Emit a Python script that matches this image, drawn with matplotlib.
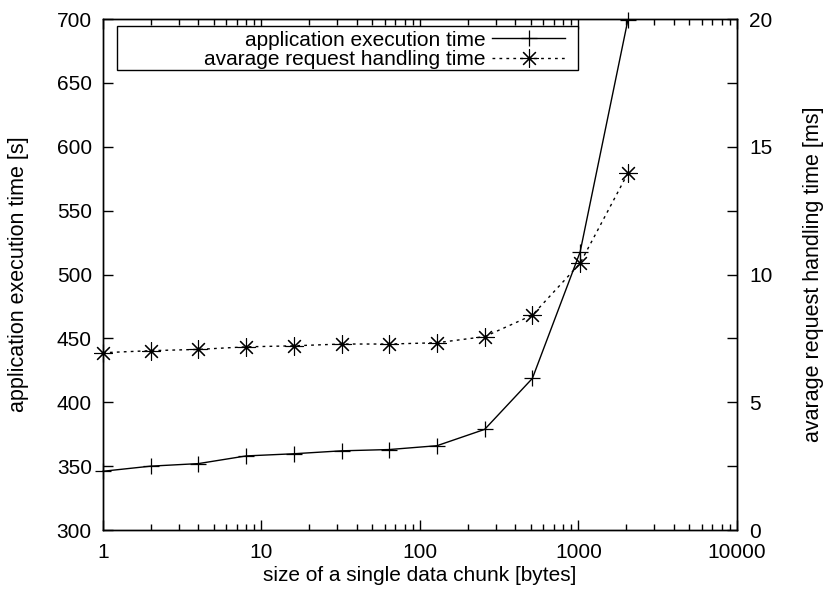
import matplotlib
matplotlib.use("Agg")
import matplotlib.pyplot as plt
from matplotlib.patches import Rectangle
from matplotlib.ticker import FixedLocator, NullFormatter, LogLocator

plt.rcParams['font.family'] = ['Liberation Sans', 'DejaVu Sans']

# chunk sizes [bytes]
chunk_size = [1, 2, 4, 8, 16, 32, 64, 128, 256, 512, 1024, 2048]
# application execution time [s]
exec_time = [346, 350, 352, 358, 359.7, 362, 363, 366, 378.8, 418.7, 517.6, 699]
# average request handling time [ms]
req_time = [6.94, 7.02, 7.07, 7.17, 7.21, 7.28, 7.28, 7.33, 7.57, 8.41, 10.44, 13.96]

x_ticks = [1, 10, 100, 1000, 10000]
y1_ticks = [300, 350, 400, 450, 500, 550, 600, 650, 700]
y2_ticks = [0, 5, 10, 15, 20]
y2_minor = [2.5, 7.5, 12.5, 17.5]

FS = 15

fig = plt.figure(figsize=(8.25, 5.95), dpi=100)
ax = fig.add_axes([0.1248, 0.1092, 0.7685, 0.8588])
ax2 = ax.twinx()

l1, = ax.plot(chunk_size, exec_time, color='black', lw=1.0, marker='+',
              markersize=12, markeredgewidth=0.9, clip_on=False, zorder=3)
l2, = ax2.plot(chunk_size, req_time, color='black', lw=1.0, ls=(0, (2, 3)),
               marker=(8, 2, 0), markersize=13, markeredgewidth=0.8,
               clip_on=False, zorder=3)

ax.set_xscale('log')
ax.set_xlim(1, 10000)
ax.set_ylim(300, 700)
ax2.set_ylim(0, 20)

ax.set_xticks(x_ticks)
ax.set_xticklabels([str(t) for t in x_ticks])
ax.xaxis.set_minor_locator(LogLocator(base=10, subs=range(2, 10)))
ax.xaxis.set_minor_formatter(NullFormatter())
ax.set_yticks(y1_ticks)
ax2.set_yticks(y2_ticks)
ax2.yaxis.set_minor_locator(FixedLocator(y2_minor))

ax.tick_params(axis='x', which='both', direction='in', top=True, labelsize=FS, pad=9)
ax.tick_params(axis='x', which='major', length=7, width=1)
ax.tick_params(axis='x', which='minor', length=4, width=1)
ax.tick_params(axis='y', which='major', direction='in', length=7, width=1,
               labelsize=FS, right=False, pad=8)
ax2.tick_params(axis='y', which='both', direction='in', length=7, width=1,
                labelsize=FS, pad=9)

for a in (ax, ax2):
    for s in a.spines.values():
        s.set_linewidth(1.0)

ax.set_xlabel('size of a single data chunk [bytes]', fontsize=FS, labelpad=3)
ax.set_ylabel('application execution time [s]', fontsize=15.5, labelpad=20)
ax2.set_ylabel('avarage request handling time [ms]', fontsize=15.5, labelpad=22)

# gnuplot style key box
ax2.add_patch(Rectangle((0.022, 0.900), 0.727, 0.086, transform=ax2.transAxes,
                        fill=True, facecolor='white', edgecolor='black',
                        lw=1.0, zorder=4))
leg = ax2.legend([l1, l2], ['application execution time', 'avarage request handling time'],
                 loc='upper right', bbox_to_anchor=(0.752, 1.006),
                 frameon=False, markerfirst=False, fontsize=FS,
                 handlelength=3.5, handletextpad=0.3, labelspacing=0.02,
                 borderpad=0.2)
leg.set_zorder(5)

fig.savefig('out.png', dpi=100)
